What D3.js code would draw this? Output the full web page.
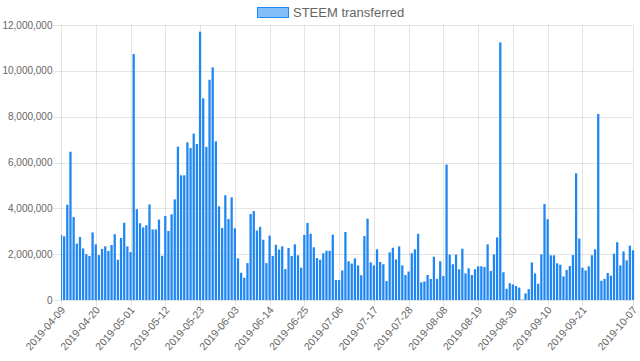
<!DOCTYPE html>
<html>
<head>
<meta charset="utf-8">
<script src="https://cdn.jsdelivr.net/npm/d3@7/dist/d3.min.js"></script>
<style>
  body { margin: 0; background: #fff; }
  svg { display: block; font-family: "Liberation Sans", Arial, Helvetica, sans-serif; }
</style>
</head>
<body>
<svg id="chart" width="640" height="361"></svg>
<script>
// daily STEEM transferred, 2019-04-09 .. 2019-10-07
var startDate = '2019-04-09';
var transferred = [
  2.84, 2.78, 4.16, 6.47, 3.62, 2.46, 2.75, 2.25, 2.00, 1.92,
  2.95, 2.43, 1.96, 2.23, 2.34, 2.14, 2.40, 2.87, 1.76, 2.71,
  3.37, 2.34, 2.09, 10.73, 3.96, 3.35, 3.17, 3.26, 4.17, 3.08,
  3.08, 3.51, 1.93, 3.67, 3.01, 3.74, 4.39, 6.69, 5.44, 5.44,
  6.88, 6.63, 7.26, 6.81, 11.71, 8.80, 6.68, 9.61, 10.15, 6.92,
  4.09, 3.14, 4.57, 3.53, 4.48, 3.13, 1.82, 1.19, 0.97, 1.61,
  3.75, 3.88, 3.03, 3.19, 2.63, 1.61, 2.81, 1.92, 2.41, 2.20,
  2.34, 1.35, 2.27, 1.92, 2.43, 1.95, 1.41, 2.84, 3.36, 2.89,
  2.30, 1.83, 1.76, 2.04, 2.15, 2.15, 2.85, 0.87, 0.87, 1.29,
  2.97, 1.69, 1.59, 1.82, 1.51, 1.08, 2.79, 3.55, 1.64, 1.51,
  2.21, 1.66, 1.56, 0.83, 2.08, 2.28, 1.77, 2.34, 1.51, 1.09,
  1.24, 2.04, 2.21, 2.89, 0.77, 0.81, 1.09, 0.92, 1.89, 0.92,
  1.69, 1.05, 5.91, 1.98, 1.56, 1.98, 1.34, 2.24, 1.16, 1.38,
  1.09, 1.34, 1.47, 1.47, 1.44, 2.43, 1.27, 1.99, 2.73, 11.24,
  1.21, 0.49, 0.73, 0.68, 0.61, 0.54, 0.02, 0.29, 0.47, 1.64,
  1.16, 0.71, 1.99, 4.19, 3.52, 1.95, 1.95, 1.60, 1.54, 1.03,
  1.31, 1.48, 1.96, 5.53, 2.68, 1.41, 1.29, 1.47, 1.95, 2.21,
  8.12, 0.84, 0.92, 1.18, 1.06, 2.02, 2.52, 1.51, 2.12, 1.73,
  2.37, 2.17
].map(function(v) { return v * 1e6; });
var tickLabels = [
  '2019-04-09', '2019-04-20', '2019-05-01', '2019-05-12', '2019-05-23',
  '2019-06-03', '2019-06-14', '2019-06-25', '2019-07-06', '2019-07-17',
  '2019-07-28', '2019-08-08', '2019-08-19', '2019-08-30', '2019-09-10',
  '2019-09-21', '2019-10-07'
];
var yTicks = [0, 2e6, 4e6, 6e6, 8e6, 10e6, 12e6];

var fmtDay = d3.timeFormat('%Y-%m-%d'),
    start = d3.timeParse('%Y-%m-%d')(startDate);
var days = transferred.map(function(v, i) { return fmtDay(d3.timeDay.offset(start, i)); });

var margin = {left: 61, right: 7, top: 25, bottom: 61},
    width = 640, height = 361;

var svg = d3.select('#chart');

var x = d3.scalePoint()
  .domain(days)
  .range([margin.left, width - margin.right]);
var y = d3.scaleLinear()
  .domain([0, 12e6])
  .range([height - margin.bottom, margin.top]);

var step = x.step(),
    barW = step * 0.8 * 0.9;

// Horizontal grid + y ticks
svg.append('g')
  .selectAll('line')
  .data(yTicks)
  .enter().append('line')
    .attr('x1', margin.left - 8)
    .attr('x2', width - margin.right)
    .attr('y1', function(d) { return Math.round(y(d)) + 0.5; })
    .attr('y2', function(d) { return Math.round(y(d)) + 0.5; })
    .style('stroke', 'rgba(0,0,0,0.1)')
    .style('stroke-width', 1);

svg.append('g')
  .selectAll('text')
  .data(yTicks)
  .enter().append('text')
    .attr('x', margin.left - 8.5)
    .attr('y', function(d) { return y(d); })
    .attr('dy', '0.35em')
    .attr('text-anchor', 'end')
    .style('font-size', '10px')
    .style('fill', '#666')
    .text(d3.format(','));

// Vertical grid at labelled days
svg.append('g')
  .selectAll('line')
  .data(tickLabels)
  .enter().append('line')
    .attr('x1', function(d) { return Math.round(x(d)) + 0.5; })
    .attr('x2', function(d) { return Math.round(x(d)) + 0.5; })
    .attr('y1', margin.top)
    .attr('y2', height - margin.bottom + 6)
    .style('stroke', 'rgba(0,0,0,0.1)')
    .style('stroke-width', 1);

svg.append('g')
  .selectAll('text')
  .data(tickLabels)
  .enter().append('text')
    .attr('transform', function(d) {
      return 'translate(' + (x(d) + 2) + ',' + (height - margin.bottom + 8) + ') rotate(-49)';
    })
    .attr('dy', '0.35em')
    .attr('text-anchor', 'end')
    .style('font-size', '10.5px')
    .style('fill', '#666')
    .text(function(d) { return d; });

// Bars
svg.append('clipPath')
  .attr('id', 'plotClip')
  .append('rect')
    .attr('x', margin.left)
    .attr('y', 0)
    .attr('width', width - margin.left)
    .attr('height', height - margin.bottom);

svg.append('g')
  .attr('clip-path', 'url(#plotClip)')
  .selectAll('rect')
  .data(transferred)
  .enter().append('rect')
    .attr('x', function(d, i) { return x(days[i]) - barW / 2; })
    .attr('y', function(d) { return y(d); })
    .attr('width', barW)
    .attr('height', function(d) { return y(0) - y(d); })
    .style('fill', '#1f86f2');

// Legend
var legend = svg.append('g').attr('transform', 'translate(257,7)');
legend.append('rect')
  .attr('x', 0.5)
  .attr('y', 0.5)
  .attr('width', 31)
  .attr('height', 10)
  .style('fill', 'rgba(30,136,245,0.55)')
  .style('stroke', '#1e88f5')
  .style('stroke-width', 1);
legend.append('text')
  .attr('x', 36)
  .attr('y', 5.5)
  .attr('dy', '0.35em')
  .style('font-size', '13px')
  .style('fill', '#666')
  .text('STEEM transferred');
</script>
</body>
</html>
